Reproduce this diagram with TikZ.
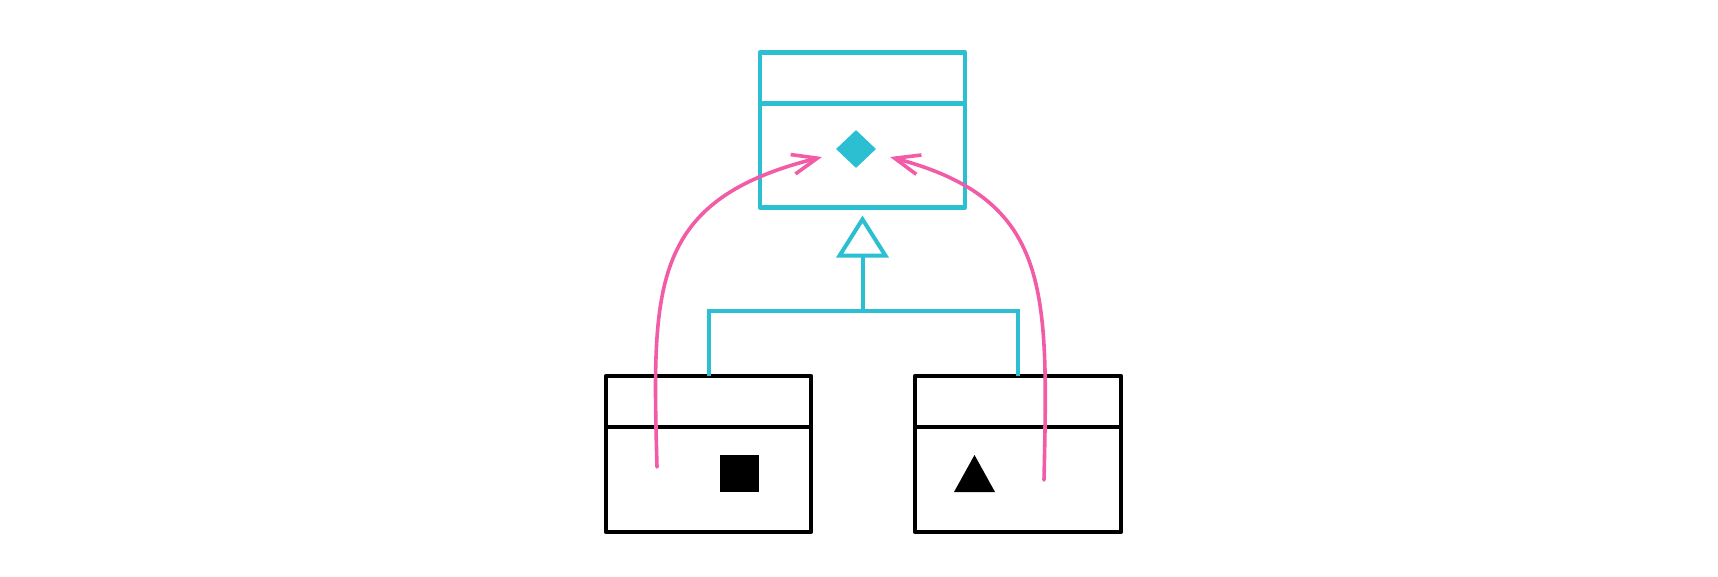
\documentclass[tikz,border=0pt]{standalone}
\usetikzlibrary{arrows.meta,shapes.geometric}
\definecolor{cy}{HTML}{2BBFD1}
\definecolor{pk}{HTML}{F25CA6}
\begin{document}
\begin{tikzpicture}[x=1pt,y=-1pt,
 classbox/.style={draw,line width=4.3pt,line join=round,minimum width=205pt,minimum height=155pt,inner sep=0pt,outer sep=0pt},
 divider/.style={line width=4.3pt},
 conn/.style={draw=cy,line width=4pt,line join=miter},
 link/.style={draw=pk,line width=3.6pt,line cap=round,-{Straight Barb[length=25pt,width=20pt,line width=3.6pt]}},
]
\useasboundingbox (0,0) rectangle (1718,576);
% classes
\node[classbox,draw=cy] (top) at (862.5,130) {};
\draw[divider,cy] ([yshift=-51pt]top.north west) -- ([yshift=-51pt]top.north east);
\node[classbox,minimum height=156pt] (l) at (708.5,454) {};
\draw[divider] ([yshift=-51pt]l.north west) -- ([yshift=-51pt]l.north east);
\node[classbox,minimum height=156pt,minimum width=206pt] (r) at (1018,454) {};
\draw[divider] ([yshift=-51pt]r.north west) -- ([yshift=-51pt]r.north east);
% symbols
\node[diamond,fill=cy,minimum width=40pt,minimum height=38pt,inner sep=0pt] (dm) at (856,149) {};
\node[fill=black,minimum width=39pt,minimum height=37pt,inner sep=0pt] (sq) at (739.5,473.5) {};
\fill (954,492) -- (974.5,455) -- (995,492) -- cycle;
% generalization
\coordinate (j) at (862.5,311);
\draw[conn] (l.north) |- (j) -| (r.north);
\draw[conn,-{Triangle[open,length=42pt,width=52pt,line width=4pt]}] (j) -- ([yshift=-8pt]top.south);
% links
\coordinate (ls) at (657,467);
\coordinate (le) at (822,157);
\draw[link] (ls) .. controls (652,285) and (650,200) .. (le);
\coordinate (rs) at (1044,480);
\coordinate (re) at (890,157);
\draw[link] (rs) .. controls (1048,290) and (1052,200) .. (re);
\end{tikzpicture}
\end{document}
